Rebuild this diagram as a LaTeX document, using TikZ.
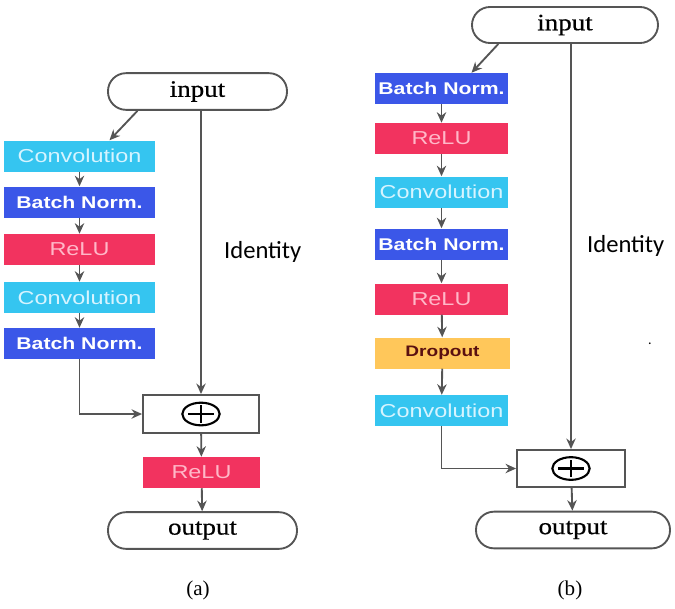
\documentclass[tikz,border=0pt]{standalone}
\usepackage{fontspec}
\setmainfont{Liberation Serif}
\newfontfamily\boxfont[FakeStretch=1.25]{Liberation Sans}
\newfontfamily\termfont[FakeStretch=1.15,FakeBold=0.6]{Liberation Serif}
\newfontfamily\labelfont{Carlito}
\usetikzlibrary{arrows.meta}
\definecolor{convcol}{HTML}{35C5F0}
\definecolor{convtxt}{HTML}{D6F4FF}
\definecolor{normcol}{HTML}{3B57E8}
\definecolor{relucol}{HTML}{F2335F}
\definecolor{relutxt}{HTML}{FFB8C8}
\definecolor{dropcol}{HTML}{FFC75A}
\definecolor{droptxt}{HTML}{5A1010}
\definecolor{linecol}{HTML}{555555}
\tikzset{
  layer/.style={inner sep=0pt, minimum height=0.93cm},
  convbox/.style={layer, fill=convcol, text=convtxt, font=\boxfont\fontsize{16}{18}\selectfont},
  normbox/.style={layer, fill=normcol, text=white, font=\boxfont\bfseries\fontsize{14.5}{17}\selectfont},
  relubox/.style={layer, fill=relucol, text=relutxt, font=\boxfont\fontsize{16}{18}\selectfont},
  dropbox/.style={layer, fill=dropcol, text=droptxt, font=\boxfont\bfseries\fontsize{13}{15}\selectfont},
  addbox/.style={draw=linecol, line width=1.6pt, inner sep=0pt},
  terminal/.style={draw=linecol, line width=1.6pt, rounded corners=0.54cm, inner sep=0pt,
    minimum height=1.1cm, font=\termfont\fontsize{20}{22}\selectfont},
  link/.style={draw=linecol, line width=1.6pt, -{Stealth[length=9pt,width=8pt]}}
}
\begin{document}
\begin{tikzpicture}[x=0.03cm,y=-0.03cm]
\useasboundingbox (0,0) rectangle (675,608);
% (a)
\node[terminal, minimum width=5.37cm] (inL) at (197.5,91.5) {input};
\node[convbox, minimum width=4.53cm] (convLa) at (79.5,156) {Convolution};
\node[normbox, minimum width=4.53cm] (normLa) at (79.5,202) {Batch Norm.};
\node[relubox, minimum width=4.53cm] (reluLa) at (79.5,249.5) {ReLU};
\node[convbox, minimum width=4.53cm] (convLb) at (79.5,297.5) {Convolution};
\node[normbox, minimum width=4.53cm] (normLb) at (79.5,343.5) {Batch Norm.};
\node[addbox, minimum width=3.48cm, minimum height=1.14cm] (addL) at (201,414) {};
\node[relubox, minimum width=3.51cm] (reluLc) at (201.5,472.5) {ReLU};
\node[terminal, minimum width=5.67cm] (outL) at (202.5,530.5) {output};
\node[font=\labelfont\fontsize{21}{24}\selectfont, anchor=west] (idL) at (220,252) {Identity};
\node[font=\fontsize{18}{20}\selectfont] (capL) at (198,590) {(a)};
\draw[link] ([xshift=-1.8cm]inL.south) -- ([xshift=0.9cm]convLa.north);
\draw[link] (convLa) -- (normLa);
\draw[link] (normLa) -- (reluLa);
\draw[link] (reluLa) -- (convLb);
\draw[link] (convLb) -- (normLb);
\draw[link] (normLb.south) |- (addL.west);
\draw[link] (addL.north |- inL.south) -- (addL.north);
\draw[link] (addL) -- (reluLc);
\draw[link] (reluLc) -- (outL);
% (b)
\node[terminal, minimum width=5.58cm, minimum height=1.08cm] (inR) at (565,25) {input};
\node[normbox, minimum width=3.99cm] (normRa) at (441.5,88.5) {Batch Norm.};
\node[relubox, minimum width=3.99cm] (reluRa) at (441.5,138.5) {ReLU};
\node[convbox, minimum width=3.99cm] (convRa) at (441.5,192) {Convolution};
\node[normbox, minimum width=3.99cm] (normRb) at (441.5,244) {Batch Norm.};
\node[relubox, minimum width=3.99cm] (reluRb) at (441.5,299) {ReLU};
\node[dropbox, minimum width=4.05cm] (dropR) at (442.5,353) {Dropout};
\node[convbox, minimum width=3.99cm] (convRb) at (441.5,410.5) {Convolution};
\node[addbox, minimum width=3.24cm, minimum height=1.11cm] (addR) at (571,468.5) {};
\node[terminal, minimum width=5.82cm] (outR) at (573,530) {output};
\node[font=\labelfont\fontsize{21}{24}\selectfont, anchor=west] (idR) at (583,246) {Identity};
\node[font=\labelfont\fontsize{12}{14}\selectfont] (dotR) at (650,344) {.};
\node[font=\fontsize{18}{20}\selectfont] (capR) at (570,590) {(b)};
\draw[link] ([xshift=-2.0cm]inR.south) -- ([xshift=0.9cm]normRa.north);
\draw[link] (normRa) -- (reluRa);
\draw[link] (reluRa) -- (convRa);
\draw[link] (convRa) -- (normRb);
\draw[link] (normRb) -- (reluRb);
\draw[link] (reluRb) -- (dropR);
\draw[link] (dropR) -- (convRb);
\draw[link] (convRb.south) |- (addR.west);
\draw[link] (addR.north |- inR.south) -- (addR.north);
\draw[link] (addR) -- (outR);
% plus signs
\foreach \n in {addL,addR} {
  \draw[line width=1.8pt] (\n.center) ellipse [x radius=0.56cm, y radius=0.34cm];
  \draw[line width=1.8pt] ([xshift=-0.38cm]\n.center) -- ([xshift=0.38cm]\n.center);
  \draw[line width=1.8pt] ([yshift=-0.26cm]\n.center) -- ([yshift=0.26cm]\n.center);
}
\end{tikzpicture}
\end{document}
